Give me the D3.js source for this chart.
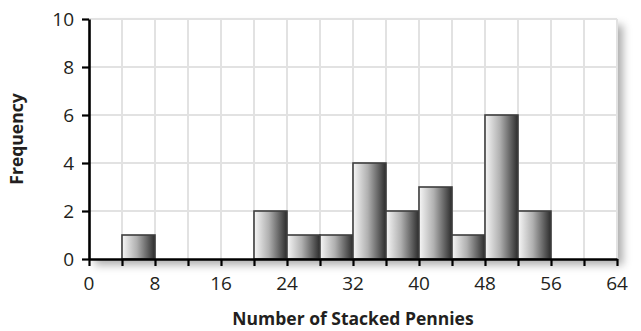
<!DOCTYPE html>
<html>
<head>
<meta charset="utf-8">
<script src="https://cdn.jsdelivr.net/npm/d3@7"></script>
<style>
  body { margin: 0; background: #fff; }
  svg { display: block; font-family: "Open Sans", "Noto Sans", sans-serif; }
</style>
</head>
<body>
<div id="chart"></div>
<script>
// Histogram bins (width 4) and counts
const binStarts = [4, 20, 24, 28, 32, 36, 40, 44, 48, 52];
const counts    = [1, 2, 1, 1, 4, 2, 3, 1, 6, 2];
const binWidth = 4;
const xTicks = [0, 8, 16, 24, 32, 40, 48, 56, 64];
const yTicks = [0, 2, 4, 6, 8, 10];

const width = 641, height = 331;
const margin = { top: 19, right: 24, bottom: 72, left: 89 };

const svg = d3.select("#chart").append("svg")
  .attr("width", width)
  .attr("height", height);

const defs = svg.append("defs");

const grad = defs.append("linearGradient")
  .attr("id", "barGrad")
  .attr("x1", "0%").attr("x2", "100%")
  .attr("y1", "0%").attr("y2", "0%");
grad.append("stop").attr("offset", "0%").attr("stop-color", "#f7f7f7");
grad.append("stop").attr("offset", "45%").attr("stop-color", "#b0b0b0");
grad.append("stop").attr("offset", "100%").attr("stop-color", "#2c2c2c");

const shadow = defs.append("filter")
  .attr("id", "shadow")
  .attr("x", "-5%").attr("y", "-5%")
  .attr("width", "115%").attr("height", "125%");
shadow.append("feDropShadow")
  .attr("dx", 6).attr("dy", 6)
  .attr("stdDeviation", 4)
  .attr("flood-color", "#000")
  .attr("flood-opacity", 0.32);

const x = d3.scaleLinear().domain([0, 64]).range([margin.left, width - margin.right]);
const y = d3.scaleLinear().domain([0, 10]).range([height - margin.bottom, margin.top]);

// Plot background with shadow
svg.append("rect")
  .attr("x", x(0)).attr("y", y(10))
  .attr("width", x(64) - x(0))
  .attr("height", y(0) - y(10))
  .attr("fill", "#fff")
  .attr("filter", "url(#shadow)");

// Grid
svg.append("g")
  .selectAll("line")
  .data(d3.range(4, 65, 4))
  .join("line")
    .attr("x1", d => x(d)).attr("x2", d => x(d))
    .attr("y1", y(0)).attr("y2", y(10))
    .attr("stroke", "#e2e2e2")
    .attr("stroke-width", 2);

svg.append("g")
  .selectAll("line")
  .data(yTicks.slice(1))
  .join("line")
    .attr("x1", x(0)).attr("x2", x(64))
    .attr("y1", d => y(d)).attr("y2", d => y(d))
    .attr("stroke", "#e2e2e2")
    .attr("stroke-width", 2);

// Bars
svg.append("g")
  .selectAll("rect")
  .data(binStarts.map((s, i) => ({ s, c: counts[i] })))
  .join("rect")
    .attr("x", d => x(d.s))
    .attr("y", d => y(d.c))
    .attr("width", d => x(d.s + binWidth) - x(d.s))
    .attr("height", d => y(0) - y(d.c))
    .attr("fill", "url(#barGrad)")
    .attr("stroke", "#3e3e3e")
    .attr("stroke-width", 1.6);

// X axis
const xAxis = svg.append("g")
  .attr("transform", `translate(0,${y(0)})`)
  .call(d3.axisBottom(x).tickValues(d3.range(0, 65, 4)).tickSize(7).tickSizeOuter(0).tickFormat(""));
xAxis.select(".domain").attr("stroke", "#000").attr("stroke-width", 2.6);
xAxis.selectAll(".tick line").attr("stroke", "#000").attr("stroke-width", 2.2);

svg.append("g")
  .selectAll("text")
  .data(xTicks)
  .join("text")
    .attr("x", d => x(d))
    .attr("y", y(0) + 31)
    .attr("text-anchor", "middle")
    .attr("font-size", 19)
    .attr("fill", "#231f20")
    .text(d => d);

// Y axis
const yAxis = svg.append("g")
  .attr("transform", `translate(${x(0)},0)`)
  .call(d3.axisLeft(y).tickValues(yTicks).tickSize(7).tickSizeOuter(0).tickPadding(8));
yAxis.select(".domain").attr("stroke", "#000").attr("stroke-width", 2.6);
yAxis.selectAll(".tick line").attr("stroke", "#000").attr("stroke-width", 2.2);
yAxis.selectAll(".tick text")
  .attr("font-size", 19)
  .attr("fill", "#231f20")
  .attr("font-family", "\"Open Sans\", \"Noto Sans\", sans-serif");

// Axis titles
svg.append("text")
  .attr("x", (x(0) + x(64)) / 2)
  .attr("y", 325)
  .attr("text-anchor", "middle")
  .attr("font-size", 17.5)
  .attr("font-weight", "bold")
  .attr("fill", "#231f20")
  .text("Number of Stacked Pennies");

svg.append("text")
  .attr("transform", `translate(23,${(y(0) + y(10)) / 2}) rotate(-90)`)
  .attr("text-anchor", "middle")
  .attr("font-size", 17.5)
  .attr("font-weight", "bold")
  .attr("fill", "#231f20")
  .text("Frequency");
</script>
</body>
</html>
